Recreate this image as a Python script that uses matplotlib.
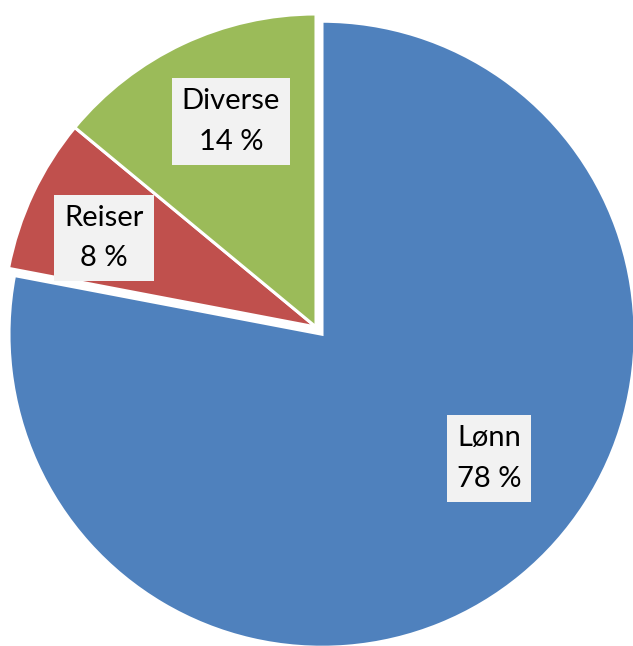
import numpy as np
import matplotlib.pyplot as plt

plt.rcParams['font.family'] = ['Lato', 'DejaVu Sans']

labels = ['Lønn', 'Reiser', 'Diverse']
shares = [78, 8, 14]
colors = ['#4F81BD', '#C0504D', '#9BBB59']

# label placement tweaks (Excel doesn't sit them on the bisector)
label_shift = [13.8, 2.4, -2.7]     # degrees
label_dist = [0.665, 0.735, 0.71]   # fraction of radius

W, H = 633, 646
fig = plt.figure(figsize=(W / 100, H / 100), dpi=100)
ax = fig.add_axes([0, 0, 1, 1])

r = 313
cx, cy = 316, H - 327
# explode is in data units here since radius isn't 1
wedges, _ = ax.pie(shares, colors=colors, startangle=90, counterclock=False,
                   explode=[0.03 * r, 0, 0], radius=r, center=(cx, cy),
                   wedgeprops=dict(edgecolor='white', linewidth=2.2),
                   frame=True)
ax.set_xlim(0, W)
ax.set_ylim(0, H)
ax.set_aspect('equal')
ax.axis('off')

for i, w in enumerate(wedges):
    ang = np.deg2rad((w.theta1 + w.theta2) / 2 + label_shift[i])
    x0, y0 = w.center
    x = x0 + label_dist[i] * r * np.cos(ang)
    y = y0 + label_dist[i] * r * np.sin(ang)
    ax.text(x, y, f'{labels[i]}\n{shares[i]} %', ha='center', va='center',
            fontsize=21, linespacing=1.7, color='black',
            bbox=dict(boxstyle='square,pad=0.34', fc='#F2F2F2', ec='none'))

fig.savefig('out.png', dpi=100)
